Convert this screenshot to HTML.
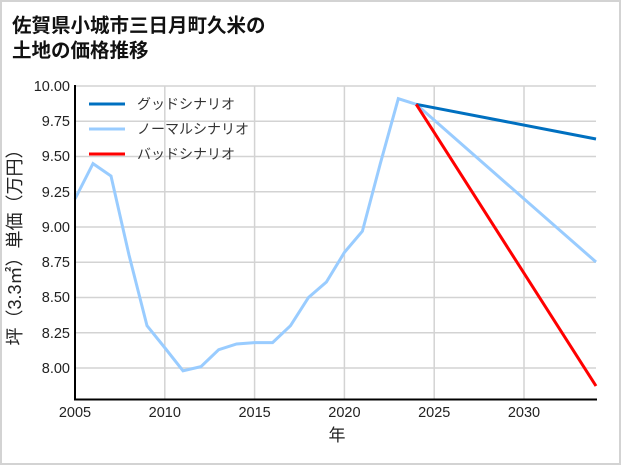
<!DOCTYPE html><html><head><meta charset="utf-8"><style>
body{margin:0;background:#fff}
svg{display:block}
text{font-family:"Liberation Sans","Noto Sans CJK JP",sans-serif}
</style></head><body>
<svg width="621" height="465" viewBox="0 0 621 465">
<rect x="1" y="1" width="619" height="463" fill="#fff" stroke="#d3d3d3" stroke-width="2"/>
<text x="12" y="32" font-size="19.5" font-weight="bold" fill="#111">佐賀県小城市三日月町久米の</text>
<text x="12" y="57" font-size="19.5" font-weight="bold" fill="#111">土地の価格推移</text>
<g stroke="#d3d3d3" stroke-width="1.5">
<line x1="75" y1="86" x2="596" y2="86"/><line x1="75" y1="121.3" x2="596" y2="121.3"/><line x1="75" y1="156.5" x2="596" y2="156.5"/><line x1="75" y1="191.8" x2="596" y2="191.8"/><line x1="75" y1="227" x2="596" y2="227"/><line x1="75" y1="262.3" x2="596" y2="262.3"/><line x1="75" y1="297.5" x2="596" y2="297.5"/><line x1="75" y1="332.8" x2="596" y2="332.8"/><line x1="75" y1="368" x2="596" y2="368"/>
<line x1="164.8" y1="86" x2="164.8" y2="399"/><line x1="254.6" y1="86" x2="254.6" y2="399"/><line x1="344.4" y1="86" x2="344.4" y2="399"/><line x1="434.2" y1="86" x2="434.2" y2="399"/><line x1="524" y1="86" x2="524" y2="399"/>
</g>
<polyline fill="none" stroke="#99ccff" stroke-width="3" points="75,199 93,163.6 111,176 129,255 147,325.7 165,348 183,370.8 201,366.6 218.7,349.7 236.6,344 254.6,342.6 272.6,342.6 290.5,325.7 308.5,297.5 326.4,282 344.4,252.4 362.4,231.2 380.3,163.6 398.3,98.7 416.2,104.3 596,262"/>
<line x1="416.2" y1="104.3" x2="596" y2="139" stroke="#0070c0" stroke-width="3"/>
<line x1="416.2" y1="104.3" x2="596" y2="386" stroke="#ff0000" stroke-width="3"/>
<line x1="75" y1="85" x2="75" y2="400" stroke="#000" stroke-width="2"/>
<line x1="74" y1="399.5" x2="597" y2="399.5" stroke="#000" stroke-width="2"/>
<g font-size="14.5" fill="#222" text-anchor="end">
<text x="70" y="91">10.00</text><text x="70" y="126">9.75</text><text x="70" y="161">9.50</text><text x="70" y="197">9.25</text><text x="70" y="232">9.00</text><text x="70" y="267">8.75</text><text x="70" y="302">8.50</text><text x="70" y="338">8.25</text><text x="70" y="373">8.00</text>
</g>
<g font-size="14.5" fill="#222" text-anchor="middle">
<text x="75" y="417">2005</text><text x="164.8" y="417">2010</text><text x="254.6" y="417">2015</text><text x="344.4" y="417">2020</text><text x="434.2" y="417">2025</text><text x="524" y="417">2030</text>
<text x="337" y="441" font-size="17">年</text>
</g>
<text transform="translate(21,243) rotate(-90)" font-size="18" fill="#222" text-anchor="middle">坪（3.3㎡）単価（万円）</text>
<line x1="89" y1="104" x2="125" y2="104" stroke="#0070c0" stroke-width="3"/>
<line x1="89" y1="129" x2="125" y2="129" stroke="#99ccff" stroke-width="3"/>
<line x1="89" y1="154" x2="125" y2="154" stroke="#ff0000" stroke-width="3"/>
<g font-size="14" fill="#333">
<text x="137" y="109">グッドシナリオ</text><text x="137" y="134">ノーマルシナリオ</text><text x="137" y="159">バッドシナリオ</text>
</g>
</svg>
</body></html>
